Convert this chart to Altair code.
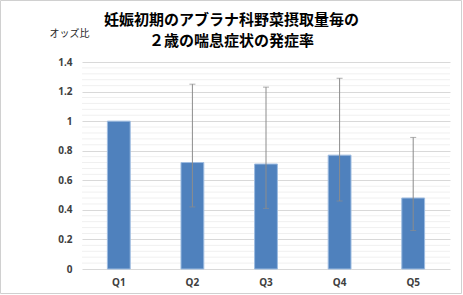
import altair as alt
import pandas as pd

categories = ["Q1", "Q2", "Q3", "Q4", "Q5"]
odds = [1.0, 0.72, 0.71, 0.77, 0.48]
lower = [None, 0.42, 0.41, 0.46, 0.26]
upper = [None, 1.25, 1.23, 1.29, 0.89]
major_ticks = [0, 0.2, 0.4, 0.6, 0.8, 1.0, 1.2, 1.4]
minor_ticks = [0.04, 0.08, 0.12, 0.16, 0.24, 0.28, 0.32, 0.36, 0.44, 0.48, 0.52, 0.56,
               0.64, 0.68, 0.72, 0.76, 0.84, 0.88, 0.92, 0.96, 1.04, 1.08, 1.12, 1.16,
               1.24, 1.28, 1.32, 1.36]
title_lines = ["妊娠初期のアブラナ科野菜摂取量毎の", "２歳の喘息症状の発症率"]
y_title = "オッズ比"

df = pd.DataFrame({"q": categories, "odds": odds, "lo": lower, "hi": upper})
err_df = df.dropna()
minor_df = pd.DataFrame({"v": minor_ticks})
title_df = pd.DataFrame({"t": ["\n".join(title_lines)]})

LABEL_FONT = "Noto Sans"
JP_FONT = "Noto Sans CJK JP"

xscale = alt.Scale(domain=categories, paddingInner=0.69, paddingOuter=0.345)
yscale = alt.Scale(domain=[0, 1.4], nice=False)
x_axis = alt.Axis(title=None, labelAngle=0, domain=False, ticks=False,
                  labelFont=LABEL_FONT, labelFontWeight="bold", labelFontSize=10,
                  labelColor="#404040", labelPadding=8)
y_axis = alt.Axis(values=major_ticks, format="~g", domain=False, ticks=False,
                  grid=True, gridColor="#d9d9d9", labelOverlap=False,
                  labelFont=LABEL_FONT, labelFontWeight="bold", labelFontSize=10,
                  labelColor="#404040", labelPadding=10,
                  title=y_title, titleAngle=0, titleAlign="left",
                  titleBaseline="middle", titleX=-33, titleY=-29,
                  titleFont=JP_FONT, titleFontSize=10, titleFontWeight="normal",
                  titleColor="#262626")


def X(field):
    return alt.X(field, scale=xscale, sort=categories, axis=x_axis)


def Y(field):
    return alt.Y(field, scale=yscale, axis=y_axis)


minor = alt.Chart(minor_df).mark_rule(color="#f0f0f0", strokeWidth=1).encode(
    y=Y("v:Q")
)

bars = alt.Chart(df).mark_bar(color="#4f81bd", stroke="#9dbbe0", strokeWidth=1).encode(
    x=X("q:N"),
    y=Y("odds:Q"),
)

rules = alt.Chart(err_df).mark_rule(color="#8c8c8c", strokeWidth=1).encode(
    x=X("q:N"),
    y=Y("lo:Q"),
    y2="hi:Q",
)
cap_hi = alt.Chart(err_df).mark_tick(color="#8c8c8c", thickness=1, size=6).encode(
    x=X("q:N"),
    y=Y("hi:Q"),
)
cap_lo = alt.Chart(err_df).mark_tick(color="#8c8c8c", thickness=1, size=6).encode(
    x=X("q:N"),
    y=Y("lo:Q"),
)

title_text = alt.Chart(title_df).mark_text(
    font=JP_FONT, fontSize=15, fontWeight="bold", color="#000000",
    align="center", baseline="middle", lineBreak="\n", lineHeight=21
).encode(
    text="t:N",
    x=alt.value(149.5),
    y=alt.value(-42.5),
)

frame = alt.Chart(pd.DataFrame({"a": [0]})).mark_rect(
    fill=None, stroke="#d0d0d0", strokeWidth=1
).encode(
    x=alt.value(-81.5), x2=alt.value(379.5), y=alt.value(-61.5), y2=alt.value(231.5)
)

chart = alt.layer(minor, bars, rules, cap_hi, cap_lo, title_text, frame).properties(
    width=368, height=207,
    autosize=alt.AutoSizeParams(type="none"),
    padding={"left": 82, "top": 62, "right": 13, "bottom": 26},
).configure(background="white").configure_view(stroke=None)

chart.save("out.html", embed_options={"renderer": "svg", "actions": False})
